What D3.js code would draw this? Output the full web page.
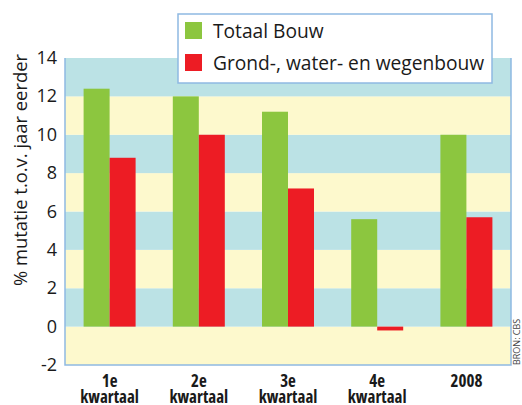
<!DOCTYPE html>
<html>
<head>
<meta charset="utf-8">
<script src="https://cdn.jsdelivr.net/npm/d3@7"></script>
<style>
  body { margin: 0; background: #fff; }
  text { font-family: "Open Sans", sans-serif; }
</style>
</head>
<body>
<script>
// chart data
var categories = [["1e", "kwartaal"], ["2e", "kwartaal"], ["3e", "kwartaal"], ["4e", "kwartaal"], ["2008"]];
var series = ["Totaal Bouw", "Grond-, water- en wegenbouw"];
var totaalBouw = [12.4, 12.0, 11.2, 5.6, 10.0];
var gww = [8.8, 10.0, 7.2, -0.2, 5.7];
var yTicks = [-2, 0, 2, 4, 6, 8, 10, 12, 14];

var colors = ["#8cc63f", "#ed1c24"];

// "top" is taken by window.top, so use other names
var w = 522, h = 405,
    pL = 65, pR = 511, pT = 58, pB = 365;

var svg = d3.select("body").append("svg")
  .attr("width", w).attr("height", h);

var y = d3.scaleLinear().domain([-2, 14]).range([pB, pT]);
var x0 = d3.scaleBand().domain(d3.range(categories.length)).range([pL, pR]);
var x1 = d3.scaleBand().domain([0, 1]).range([0, 52]);

// background bands
var bands = yTicks.slice(0, -1);
svg.selectAll("rect.band")
  .data(bands)
  .enter().append("rect")
  .attr("class", "band")
  .attr("x", pL)
  .attr("width", pR - pL)
  .attr("y", function(d) { return y(d + 2); })
  .attr("height", function(d) { return y(d) - y(d + 2); })
  .attr("fill", function(d, i) { return i % 2 == 0 ? "#fdf9cd" : "#bbe2e5"; });

// bars
var rows = categories.map(function(c, i) { return [totaalBouw[i], gww[i]]; });
var groups = svg.selectAll("g.grp")
  .data(rows)
  .enter().append("g")
  .attr("transform", function(d, i) { return "translate(" + (x0(i) + x0.bandwidth() / 2 - 26) + ",0)"; });

groups.selectAll("rect")
  .data(function(d) { return d; })
  .enter().append("rect")
  .attr("x", function(d, j) { return x1(j); })
  .attr("width", x1.bandwidth())
  .attr("y", function(d) { return y(Math.max(0, d)); })
  .attr("height", function(d) { return Math.abs(y(d) - y(0)); })
  .attr("fill", function(d, j) { return colors[j]; });

// plot frame
svg.append("path")
  .attr("d", "M" + pL + "," + pT + "V" + pB + "H" + pR + "V" + pT)
  .attr("fill", "none")
  .attr("stroke", "#8fb9e2")
  .attr("stroke-width", 1.5);

// y axis labels
svg.selectAll("text.ytick")
  .data(yTicks)
  .enter().append("text")
  .attr("x", 57)
  .attr("y", function(d) { return y(d) + 6; })
  .attr("text-anchor", "end")
  .attr("font-size", 18)
  .attr("fill", "#1a1a1a")
  .text(function(d) { return d; });

svg.append("text")
  .attr("transform", "translate(27,170) rotate(-90)")
  .attr("text-anchor", "middle")
  .attr("font-size", 18.4)
  .attr("fill", "#1a1a1a")
  .text("% mutatie t.o.v. jaar eerder");

// x labels, two lines
var xl = svg.selectAll("text.xl")
  .data(categories)
  .enter().append("text")
  .attr("text-anchor", "middle")
  .attr("font-family", "DejaVu Sans")
  .style("font-stretch", "condensed")
  .attr("font-weight", "bold")
  .attr("font-size", 17)
  .attr("fill", "#1a1a1a")
  .attr("transform", function(d, i) { return "translate(" + (x0(i) + x0.bandwidth() / 2) + ",0)"; });
xl.selectAll("tspan")
  .data(function(d) { return d; })
  .enter().append("tspan")
  .attr("x", 0)
  .attr("y", function(d, j) { return 387 + j * 16; })
  .text(function(d) { return d; });

// legend
var lg = svg.append("g").attr("transform", "translate(178,14)");
lg.append("rect")
  .attr("width", 314).attr("height", 69)
  .attr("fill", "#fff")
  .attr("stroke", "#8fb9e2")
  .attr("stroke-width", 1.5);
series.forEach(function(s, i) {
  lg.append("rect")
    .attr("x", 7).attr("y", 8 + i * 32)
    .attr("width", 17).attr("height", 17)
    .attr("fill", colors[i]);
  lg.append("text")
    .attr("x", 35).attr("y", 24 + i * 32)
    .attr("font-size", 19.2)
    .attr("fill", "#1a1a1a")
    .text(s);
});

// source
svg.append("text")
  .attr("transform", "translate(520,365) rotate(-90)")
  .attr("font-size", 9)
  .attr("fill", "#444")
  .text("BRON: CBS");
</script>
</body>
</html>
